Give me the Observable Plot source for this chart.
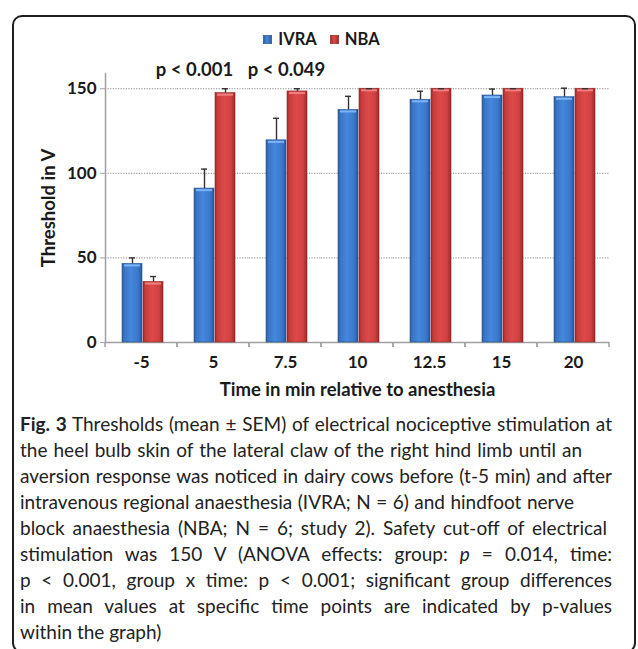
<!DOCTYPE html>
<html><head><meta charset="utf-8">
<script src="https://cdn.jsdelivr.net/npm/d3@7"></script>
<script src="https://cdn.jsdelivr.net/npm/@observablehq/plot@0.6"></script>
<style>
html,body{margin:0;padding:0;background:#fff;width:638px;height:649px;overflow:hidden;position:relative;}
#frame{position:absolute;left:12px;top:15px;width:624px;height:638px;box-sizing:border-box;border:2px solid #1e1e1e;border-radius:10px;}
#legend{position:absolute;top:29px;left:0;width:643px;display:flex;justify-content:center;gap:13px;font:700 16.5px Lato,sans-serif;color:#1a1a1a;line-height:20px;}
#legend .item{display:flex;align-items:center;gap:6px;}
#legend svg{display:block;}
#chart{position:absolute;left:0;top:50px;}
#caption{position:absolute;left:20px;top:411px;font-family:Lato,sans-serif;color:#222;line-height:26px;}
#caption .ln{white-space:normal;text-align:justify;text-align-last:justify;}
#caption .ln.last{text-align:left;text-align-last:left;}
</style>
</head><body>
<div id="frame"></div>
<div id="legend"></div>
<div id="chart"></div>
<div id="caption"></div>
<script>
// ---- data ----
const times = ["-5", "5", "7.5", "10", "12.5", "15", "20"];
const groups = ["IVRA", "NBA"];
const ivraMean = [46.5, 91, 119.5, 137.5, 143.5, 146, 145];
const ivraSem  = [3.5, 11.5, 13, 8, 5, 3.8, 5.3];
const nbaMean  = [35.8, 147.4, 148.4, 150, 150, 150, 150];
const nbaSem   = [3.2, 2.6, 1.6, 0, 0, 0, 0];
const yTicks = [0, 50, 100, 150];
const pTimes = ["5", "7.5"];
const pLabels = ["p < 0.001", "p < 0.049"];
const yTitle = "Threshold in V";
const xTitle = "Time in min relative to anesthesia";
const captionLines = [
  "<b>Fig. 3</b> Thresholds (mean ± SEM) of electrical nociceptive stimulation at",
  "the heel bulb skin of the lateral claw of the right hind limb until an",
  "aversion response was noticed in dairy cows before (t-5 min) and after",
  "intravenous regional anaesthesia (IVRA; N = 6) and hindfoot nerve",
  "block anaesthesia (NBA; N = 6; study 2). Safety cut-off of electrical",
  "stimulation was 150 V (ANOVA effects: group: <i>p</i> = 0.014, time:",
  "p < 0.001, group x time: p < 0.001; significant group differences",
  "in mean values at specific time points are indicated by p-values",
  "within the graph)"
];
const captionWidths = [592, 562, 592, 554, 587, 592, 592, 592, 0];

const colors = {IVRA: "url(#gradIVRA)", NBA: "url(#gradNBA)"};
const edge = {IVRA: "#2a5592", NBA: "#8e2727"};
const shine = {IVRA: "#7db4f5", NBA: "#f08080"};

const rows = times.flatMap((t, i) => [
  {time: t, group: "IVRA", mean: ivraMean[i], sem: ivraSem[i]},
  {time: t, group: "NBA", mean: nbaMean[i], sem: nbaSem[i]}
]);
rows.forEach(d => d.top = d.mean + d.sem);
const pRows = pTimes.map((t, i) => ({time: t, label: pLabels[i]}));

// boundary ticks under x axis (at each facet's edges)
function boundaryTicks(index, scales) {
  const [a, b] = scales.x.range();
  const y0 = scales.y(0);
  const g = d3.create("svg:g").attr("stroke", "#a0a0a0").attr("stroke-width", 1.5);
  for (const xx of [a, b]) g.append("line").attr("x1", xx).attr("x2", xx).attr("y1", y0).attr("y2", y0 + 5);
  return g.node();
}

const svg = Plot.plot({
  width: 638, height: 355,
  marginTop: 23, marginBottom: 63, marginLeft: 103, marginRight: 28,
  style: {fontFamily: "Lato, sans-serif", fontWeight: 700, color: "#1a1a1a", background: "transparent", overflow: "visible"},
  fx: {domain: times, padding: 0, axis: null, label: null},
  x: {domain: groups, paddingInner: 0.05, paddingOuter: 0.73, align: 0.55, axis: null},
  y: {domain: [0, 159], axis: null},
  marks: [
    Plot.gridY(yTicks.filter(v => v > 0), {stroke: "#8a8a8a", strokeOpacity: 1, strokeWidth: 1, strokeDasharray: "1.2,1.4"}),
    Plot.frame({anchor: "left", facetAnchor: "left", stroke: "#a0a0a0", strokeWidth: 1.5}),
    Plot.ruleY([0], {stroke: "#a0a0a0", strokeWidth: 1.5}),
    boundaryTicks,
    ...groups.map(g => Plot.barY(rows.filter(d => d.group === g), {fx: "time", x: "group", y: "mean", fill: colors[g], stroke: edge[g], strokeWidth: 0.6})),
    ...groups.map(g => Plot.tickY(rows.filter(d => d.group === g), {fx: "time", x: "group", y: "mean", stroke: shine[g], strokeWidth: 2, dy: 1.6, insetLeft: 2, insetRight: 2})),
    Plot.ruleX(rows, {fx: "time", x: "group", y1: "mean", y2: "top", stroke: "#333", strokeWidth: 1.4}),
    Plot.tickY(rows, {fx: "time", x: "group", y: "top", stroke: "#333", strokeWidth: 1.4, insetLeft: 7, insetRight: 7}),
    Plot.axisY({ticks: yTicks, tickSize: 5, tickPadding: 4, stroke: "#a0a0a0", fill: "#1a1a1a", fontSize: 17, label: null}),
    Plot.axisY({ticks: [], fill: "#1a1a1a", fontSize: 18.5, label: yTitle, labelAnchor: "center", labelArrow: "none", labelOffset: 64}),
    Plot.axisFx({anchor: "bottom", tickSize: 0, tickPadding: 13, fill: "#1a1a1a", fontSize: 17, label: null}),
    Plot.axisFx({anchor: "bottom", ticks: [], fill: "#1a1a1a", fontSize: 18.5, label: xTitle, labelAnchor: "center", labelArrow: "none", labelOffset: 53}),
    Plot.text(pRows.slice(0, 1), {fx: "time", y: () => 150, text: "label", dy: -19, dx: -19, fontSize: 18.5, fontWeight: 700, fill: "#1a1a1a"}),
    Plot.text(pRows.slice(1), {fx: "time", y: () => 150, text: "label", dy: -19, dx: 1, fontSize: 18.5, fontWeight: 700, fill: "#1a1a1a"})
  ]
});

const defs = d3.select(svg).insert("defs", ":first-child");
function grad(id, stops) {
  const lg = defs.append("linearGradient").attr("id", id).attr("x1", 0).attr("x2", 1).attr("y1", 0).attr("y2", 0);
  stops.forEach(([o, c]) => lg.append("stop").attr("offset", o).attr("stop-color", c));
}
grad("gradIVRA", [[0, "#2b5c9f"], [0.12, "#3a74c4"], [0.45, "#4587dc"], [0.8, "#3b78cb"], [1, "#2a5898"]]);
grad("gradNBA", [[0, "#a32c2c"], [0.12, "#c83b3b"], [0.45, "#de4a4a"], [0.8, "#cf4040"], [1, "#9c2a2a"]]);
document.getElementById("chart").appendChild(svg);

// legend
const legend = d3.select("#legend");
groups.forEach(g => {
  const it = legend.append("div").attr("class", "item");
  const s = it.append("svg").attr("width", 9).attr("height", 9);
  const ld = s.append("defs").append("linearGradient").attr("id", "lg" + g);
  (g === "IVRA" ? [["0", "#2b5c9f"], ["0.45", "#4587dc"], ["1", "#2a5898"]] : [["0", "#a32c2c"], ["0.45", "#de4a4a"], ["1", "#9c2a2a"]])
    .forEach(([o, c]) => ld.append("stop").attr("offset", o).attr("stop-color", c));
  s.append("rect").attr("x", 0.3).attr("y", 0.3).attr("width", 8.4).attr("height", 8.4).attr("fill", "url(#lg" + g + ")").attr("stroke", edge[g]).attr("stroke-width", 0.6);
  it.append("span").text(g);
});

// caption
const cap = document.getElementById("caption");
const meas = document.createElement("span");
meas.style.cssText = "position:absolute;visibility:hidden;white-space:nowrap;font-family:Lato,sans-serif;font-size:19px;";
document.body.appendChild(meas);
let scale = 1;
captionLines.forEach((l, i) => {
  meas.innerHTML = l;
  const w = meas.getBoundingClientRect().width;
  const target = captionWidths[i] || 592;
  scale = Math.min(scale, (target - 3) / w);
});
meas.remove();
cap.style.fontSize = (19 * scale).toFixed(2) + "px";
captionLines.forEach((l, i) => {
  const d = document.createElement("div");
  d.className = "ln" + (captionWidths[i] ? "" : " last");
  d.innerHTML = l;
  d.style.width = (captionWidths[i] || 592) + "px";
  cap.appendChild(d);
});
</script>
</body></html>
